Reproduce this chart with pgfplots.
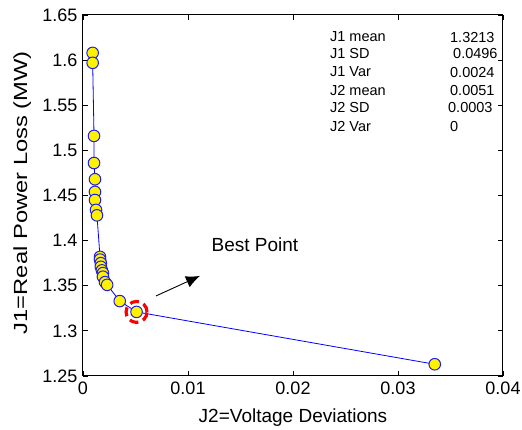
\documentclass[border=0pt]{standalone}
\usepackage{fontspec}
\setmainfont{Liberation Sans}
\usepackage{pgfplots}
\pgfplotsset{compat=1.18}
\usetikzlibrary{arrows.meta}
\begin{document}
\begin{tikzpicture}
\useasboundingbox (-83pt,-54pt) rectangle (439pt,376pt);
\begin{axis}[
  scale only axis,
  width=420pt, height=361pt,
  at={(0pt,0pt)}, anchor=south west,
  xmin=0, xmax=0.04, ymin=1.25, ymax=1.65,
  xtick={0,0.01,0.02,0.03,0.04},
  ytick={1.25,1.3,1.35,1.4,1.45,1.5,1.55,1.6,1.65},
  scaled x ticks=false,
  xticklabels={0,0.01,0.02,0.03,0.04},
  yticklabels={1.25,1.3,1.35,1.4,1.45,1.5,1.55,1.6,1.65},
  /pgf/number format/assume math mode=true,
  tick align=inside,
  major tick length=5pt,
  tick style={black, line width=0.8pt},
  axis line style={black, line width=1pt},
  ticklabel style={font=\fontsize{18}{20}\selectfont},
  xticklabel style={yshift=-2pt},
  yticklabel style={xshift=-2pt},
  xlabel={J2=Voltage Deviations},
  ylabel={\scalebox{1.25}[1]{J1=Real Power Loss (MW)}},
  label style={font=\fontsize{19}{21}\selectfont},
  xlabel style={at={(axis description cs:0.5,-0.116)}, anchor=center},
  ylabel style={at={(axis description cs:-0.145,0.508)}, anchor=center, rotate=0},
  clip=false,
]
\addplot[color={rgb,255:red,0;green,0;blue,255}, line width=0.8pt,
  mark=*, mark size=5.8pt,
  mark options={fill=yellow, draw={rgb,255:red,30;green,30;blue,235}, line width=1pt, solid}]
  coordinates {
  (0.00092,1.608) (0.00092,1.597) (0.00105,1.516) (0.00105,1.486)
  (0.00114,1.468) (0.00114,1.454) (0.00114,1.445) (0.00124,1.434)
  (0.00133,1.428) (0.00162,1.382) (0.00162,1.379) (0.00170,1.375)
  (0.00170,1.371) (0.00180,1.367) (0.00190,1.364) (0.00190,1.360)
  (0.00210,1.354) (0.00230,1.351) (0.00350,1.333) (0.00510,1.321)
  (0.03350,1.263)
  };
\addplot[only marks, mark=o, mark size=10.5pt,
  mark options={draw=red, line width=3.2pt, dash pattern=on 9pt off 5pt}]
  coordinates {(0.00510,1.321)};
\draw[black, line width=0.9pt, -{Latex[length=14pt,width=12pt]}]
  (axis cs:0.00695,1.3387) -- (axis cs:0.01114,1.3609);
\node[font=\fontsize{19}{21}\selectfont] at (axis cs:0.01638,1.3950) {Best Point};
\begin{scope}[every node/.style={font=\fontsize{14.5}{16}\selectfont, anchor=west, inner sep=0pt}]
\node at (axis cs:0.02352,1.6256) {J1 mean};
\node at (axis cs:0.02352,1.6068) {J1 SD};
\node at (axis cs:0.02352,1.5868) {J1 Var};
\node at (axis cs:0.02352,1.5658) {J2 mean};
\node at (axis cs:0.02352,1.5470) {J2 SD};
\node at (axis cs:0.02352,1.5259) {J2 Var};
\node at (axis cs:0.03495,1.6256) {1.3213};
\node at (axis cs:0.03524,1.6068) {0.0496};
\node at (axis cs:0.03495,1.5868) {0.0024};
\node at (axis cs:0.03495,1.5658) {0.0051};
\node at (axis cs:0.03476,1.5470) {0.0003};
\node at (axis cs:0.03495,1.5259) {0};
\end{scope}
\end{axis}
\end{tikzpicture}
\end{document}
